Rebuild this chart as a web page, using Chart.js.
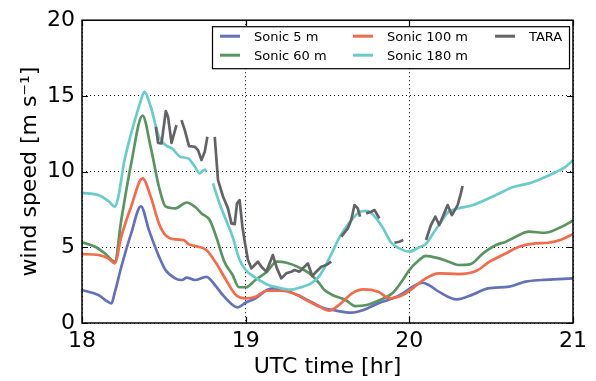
<!DOCTYPE html>
<html>
<head>
<meta charset="utf-8">
<script src="https://cdn.jsdelivr.net/npm/chart.js@4"></script>
<style>
  body { margin: 0; background: #fff; }
</style>
</head>
<body>
<canvas id="windChart" width="596" height="381"></canvas>
<script>
// Wind speed at the tower sonics and from TARA, 18-21 UTC
const sonic5Time  = [18.00, 18.10, 18.18, 18.20, 18.24, 18.30, 18.36, 18.41, 18.47, 18.51, 18.57, 18.61, 18.64, 18.69, 18.74, 18.76, 18.82, 18.86, 18.92, 18.95, 19.00, 19.06, 19.13, 19.17, 19.25, 19.33, 19.41, 19.48, 19.53, 19.65, 19.72, 19.82, 19.90, 19.96, 20.02, 20.08, 20.12, 20.18, 20.29, 20.39, 20.48, 20.61, 20.71, 20.81, 20.91, 21.00];
const sonic5Speed = [2.18, 1.85, 1.30, 2.00, 3.70, 5.90, 7.70, 6.10, 4.40, 3.50, 2.95, 2.84, 3.00, 2.84, 3.00, 3.05, 2.40, 1.85, 1.19, 1.03, 1.34, 1.63, 2.18, 2.29, 2.13, 1.78, 1.34, 0.97, 0.86, 0.68, 0.86, 1.34, 1.63, 1.96, 2.40, 2.66, 2.50, 2.07, 1.56, 1.89, 2.29, 2.40, 2.73, 2.84, 2.90, 2.95];

const sonic60Time  = [18.00, 18.08, 18.14, 18.20, 18.24, 18.30, 18.37, 18.42, 18.47, 18.51, 18.57, 18.64, 18.69, 18.73, 18.78, 18.82, 18.87, 18.92, 18.96, 19.00, 19.06, 19.13, 19.19, 19.25, 19.33, 19.39, 19.45, 19.48, 19.53, 19.61, 19.67, 19.74, 19.82, 19.90, 19.96, 20.00, 20.06, 20.10, 20.18, 20.24, 20.30, 20.37, 20.45, 20.53, 20.59, 20.65, 20.73, 20.83, 20.91, 21.00];
const sonic60Speed = [5.33, 5.04, 4.60, 4.05, 6.80, 10.50, 13.70, 11.60, 9.00, 7.70, 7.57, 7.96, 7.68, 7.24, 6.80, 5.70, 4.05, 3.17, 2.36, 2.36, 2.84, 3.39, 4.05, 3.98, 3.65, 3.28, 2.62, 2.20, 1.85, 1.52, 1.12, 1.19, 1.52, 2.00, 2.84, 3.50, 4.16, 4.44, 4.27, 4.05, 3.83, 3.87, 4.60, 5.15, 5.37, 5.70, 6.03, 5.96, 6.25, 6.75];

const sonic100Time  = [18.00, 18.10, 18.16, 18.20, 18.24, 18.30, 18.37, 18.42, 18.47, 18.51, 18.57, 18.62, 18.65, 18.71, 18.76, 18.82, 18.88, 18.94, 19.00, 19.06, 19.13, 19.21, 19.29, 19.37, 19.45, 19.51, 19.57, 19.65, 19.72, 19.81, 19.88, 19.96, 20.02, 20.10, 20.18, 20.30, 20.41, 20.49, 20.59, 20.67, 20.77, 20.85, 20.93, 21.00];
const sonic100Speed = [4.55, 4.49, 4.27, 3.94, 5.70, 7.68, 9.55, 8.34, 6.58, 5.81, 5.52, 5.48, 5.21, 5.04, 4.82, 3.94, 2.84, 1.85, 1.63, 1.74, 2.13, 2.13, 1.96, 1.52, 1.08, 0.81, 1.19, 1.96, 2.22, 2.07, 1.63, 1.85, 2.29, 2.95, 3.28, 3.23, 3.45, 4.05, 4.60, 5.04, 5.26, 5.30, 5.52, 5.87];

// null marks the short dropout after 18.76
const sonic180Time  = [18.00, 18.10, 18.16, 18.20, 18.22, 18.26, 18.30, 18.36, 18.38, 18.42, 18.47, 18.51, 18.55, 18.60, 18.65, 18.69, 18.72, 18.75, 18.76, 18.78, 18.80, 18.84, 18.88, 18.92, 18.96, 19.00, 19.06, 19.13, 19.19, 19.27, 19.35, 19.40, 19.45, 19.51, 19.57, 19.63, 19.70, 19.74, 19.79, 19.84, 19.89, 19.94, 20.00, 20.06, 20.10, 20.15, 20.18, 20.24, 20.30, 20.39, 20.47, 20.55, 20.63, 20.73, 20.81, 20.90, 20.95, 20.99, 21.00];
const sonic180Speed = [8.60, 8.45, 8.07, 7.68, 8.23, 10.76, 12.50, 14.70, 15.27, 14.28, 12.30, 11.75, 11.53, 10.98, 10.87, 10.32, 9.88, 10.14, 9.99, null, 9.22, 7.90, 6.80, 5.70, 4.25, 3.50, 3.00, 2.55, 2.36, 2.20, 2.40, 2.62, 3.10, 4.25, 5.59, 6.58, 7.35, 7.41, 7.02, 6.25, 5.30, 4.93, 4.71, 5.00, 5.21, 6.00, 6.47, 7.35, 7.57, 7.79, 8.16, 8.56, 8.96, 9.22, 9.55, 9.99, 10.28, 10.65, 10.76];

// TARA profiler, with gaps between retrievals
const taraTime  = [18.451, 18.465, 18.486, 18.512, 18.526, 18.547, 18.577, 18.59, 18.608, 18.628, 18.654, 18.689, 18.709, 18.730, 18.750, 18.766, 18.79, 18.811, 18.831, 18.862, 18.892, 18.913, 18.933, 18.947, 18.963, 18.980, 18.994, 19.014, 19.035, 19.055, 19.075, 19.096, 19.126, 19.166, 19.191, 19.218, 19.248, 19.279, 19.299, 19.329, 19.349, 19.380, 19.407, 19.431, 19.462, 19.492, 19.523, 19.55, 19.584, 19.624, 19.645, 19.665, 19.685, 19.699, 19.72, 19.736, 19.767, 19.787, 19.817, 19.86, 19.909, 19.939, 19.963, 20.03, 20.102, 20.132, 20.159, 20.183, 20.213, 20.234, 20.260, 20.295, 20.315, 20.325];
const taraSpeed = [12.96, 11.90, 11.86, 14.00, 13.60, 11.90, 13.07, null, 13.40, 12.74, 11.68, 11.64, 11.42, 10.76, 11.31, 12.30, null, 12.30, 9.44, 8.34, 7.57, 6.58, 6.53, 7.90, 8.12, 6.36, 5.40, 4.16, 3.61, 3.83, 4.05, 3.72, 3.39, 4.49, 3.61, 2.95, 3.28, 3.39, 3.50, 3.39, 3.61, 3.94, 3.10, 3.39, 3.72, 3.83, 4.05, null, 5.70, 6.25, 6.80, 7.79, 7.57, 7.02, null, 7.24, 7.35, 7.46, 6.91, null, 5.30, 5.37, 5.48, null, 5.48, 6.47, 7.02, 6.47, 7.24, 7.79, 7.13, 7.79, 8.56, 9.05];

const seriesNames  = ['Sonic 5 m', 'Sonic 60 m', 'Sonic 100 m', 'Sonic 180 m', 'TARA'];
const seriesColors = ['#6470b8', '#5a9460', '#f26b4b', '#6ccaca', '#636367'];

const xTicks = [18, 19, 20, 21];
const yTicks = [0, 5, 10, 15, 20];

const FONT = "'DejaVu Sans', sans-serif";

function points(times, speeds) {
    return times.map((t, i) => ({ x: t, y: speeds[i] }));
}

const seriesData = [
    points(sonic5Time, sonic5Speed),
    points(sonic60Time, sonic60Speed),
    points(sonic100Time, sonic100Speed),
    points(sonic180Time, sonic180Speed),
    points(taraTime, taraSpeed)
];

// later series drawn on top, TARA last
const datasets = seriesNames.map((name, i) => ({
    label: name,
    data: seriesData[i],
    borderColor: seriesColors[i],
    backgroundColor: seriesColors[i],
    borderWidth: 2.7,
    pointRadius: 0,
    fill: false,
    spanGaps: false,
    tension: i < 4 ? 0.3 : 0,
    cubicInterpolationMode: i < 4 ? 'monotone' : 'default',
    borderJoinStyle: 'round',
    order: seriesNames.length - i
}));

// frame, inward ticks on all four sides, and the boxed legend
const framePlugin = {
    id: 'frame',
    afterDraw(chart) {
        const { ctx, chartArea: a, scales } = chart;
        const tickLen = 6;
        ctx.save();
        ctx.strokeStyle = '#000';
        ctx.lineWidth = 1.2;
        ctx.beginPath();
        xTicks.forEach(v => {
            const px = Math.round(scales.x.getPixelForValue(v)) + 0.5;
            ctx.moveTo(px, a.bottom); ctx.lineTo(px, a.bottom - tickLen);
            ctx.moveTo(px, a.top); ctx.lineTo(px, a.top + tickLen);
        });
        yTicks.forEach(v => {
            const py = Math.round(scales.y.getPixelForValue(v)) + 0.5;
            ctx.moveTo(a.left, py); ctx.lineTo(a.left + tickLen, py);
            ctx.moveTo(a.right, py); ctx.lineTo(a.right - tickLen, py);
        });
        ctx.stroke();
        ctx.lineWidth = 1.5;
        ctx.strokeRect(a.left, a.top, a.right - a.left, a.bottom - a.top);

        // legend: three columns, filled top to bottom
        const columns = [[0, 1], [2, 3], [4]];
        const colX = [8, 141, 283];
        const rowY = [10, 29];
        const boxW = 357, boxH = 42;
        const bx = a.right - 4 - boxW;
        const by = a.top + 6;
        ctx.fillStyle = '#fff';
        ctx.fillRect(bx, by, boxW, boxH);
        ctx.lineWidth = 1.2;
        ctx.strokeRect(bx + 0.5, by + 0.5, boxW, boxH);
        ctx.font = '13px ' + FONT;
        ctx.textBaseline = 'middle';
        columns.forEach((col, c) => {
            col.forEach((idx, r) => {
                const ds = chart.data.datasets[idx];
                const lx = bx + colX[c];
                const ly = by + rowY[r];
                ctx.strokeStyle = ds.borderColor;
                ctx.lineWidth = 3;
                ctx.beginPath();
                ctx.moveTo(lx, ly); ctx.lineTo(lx + 20, ly);
                ctx.stroke();
                ctx.fillStyle = '#000';
                ctx.fillText(ds.label, lx + 34, ly + 1);
            });
        });
        ctx.restore();
    }
};

new Chart(document.getElementById('windChart'), {
    type: 'line',
    data: { datasets: datasets },
    options: {
        responsive: false,
        animation: false,
        layout: { padding: { left: 0, right: 23, top: 20, bottom: 0 } },
        plugins: {
            legend: { display: false },
            tooltip: { enabled: false }
        },
        scales: {
            x: {
                type: 'linear',
                min: 18,
                max: 21,
                afterFit: scale => { scale.height = 58; },
                afterBuildTicks: scale => { scale.ticks = xTicks.map(v => ({ value: v })); },
                ticks: { color: '#000', font: { family: FONT, size: 22 }, padding: 5, maxRotation: 0 },
                grid: { color: '#000', lineWidth: 1, drawTicks: false },
                border: { display: false, dash: [1, 3] },
                title: {
                    display: true,
                    text: 'UTC time [hr]',
                    color: '#000',
                    font: { family: FONT, size: 22 },
                    padding: { top: 0, bottom: 1 }
                }
            },
            y: {
                min: 0,
                max: 20,
                afterFit: scale => { scale.width = 82; },
                afterBuildTicks: scale => { scale.ticks = yTicks.map(v => ({ value: v })); },
                ticks: { color: '#000', font: { family: FONT, size: 22 }, padding: 7 },
                grid: { color: '#000', lineWidth: 1, drawTicks: false },
                border: { display: false, dash: [1, 3] },
                title: {
                    display: true,
                    text: 'wind speed [m s\u207B\u00B9]',
                    color: '#000',
                    font: { family: FONT, size: 22 },
                    padding: { top: 17, bottom: 0 }
                }
            }
        }
    },
    plugins: [framePlugin]
});
</script>
</body>
</html>
